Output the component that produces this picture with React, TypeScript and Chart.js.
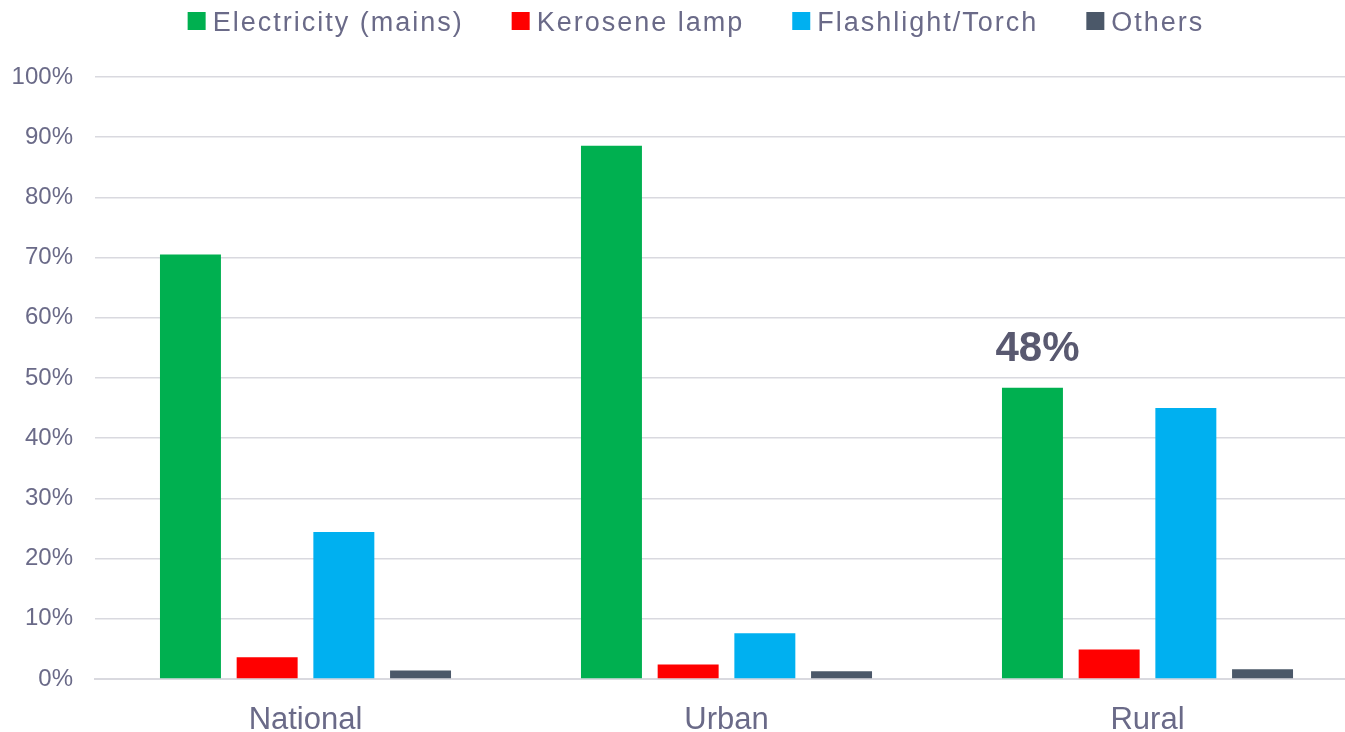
import React, { useEffect, useRef } from 'react';
import { Chart, registerables } from 'chart.js';

Chart.register(...registerables);

const categories = ['National', 'Urban', 'Rural'];
const seriesNames = ['Electricity (mains)', 'Kerosene lamp', 'Flashlight/Torch', 'Others'];
const electricity = [70.5, 88.6, 48.4];
const kerosene = [3.6, 2.4, 4.9];
const flashlight = [24.4, 7.6, 45.0];
const others = [1.4, 1.3, 1.6];
const seriesColors = ['#00B050', '#FF0000', '#00B0F0', '#4B5869'];
const yMin = 0;
const yMax = 100;
const yStep = 10;
const calloutText = '48%';
const calloutSeries = 0;
const calloutCategory = 2;

const TEXT_COLOR = '#6A6A88';
const FONT = '"Liberation Sans", Arial, sans-serif';

const legendPlugin = {
  id: 'stretchedLegend',
  afterDraw(chart: any) {
    const ctx = chart.ctx;
    ctx.save();
    ctx.font = `27px ${FONT}`;
    (ctx as any).letterSpacing = '2px';
    ctx.textBaseline = 'alphabetic';
    ctx.textAlign = 'left';
    const box = 18;
    const gap = 7;
    const spacing = 48;
    const items = chart.data.datasets.map((ds: any) => ({ text: ds.label, color: ds.backgroundColor }));
    const widths = items.map((it: any) => box + gap + ctx.measureText(it.text).width);
    const total = widths.reduce((a: number, b: number) => a + b, 0) + spacing * (items.length - 1);
    let x = 696 - total / 2;
    const boxTop = 12;
    const baseline = 31;
    items.forEach((it: any, i: number) => {
      ctx.fillStyle = it.color;
      ctx.fillRect(x, boxTop, box, box);
      ctx.fillStyle = TEXT_COLOR;
      ctx.fillText(it.text, x + box + gap, baseline);
      x += widths[i] + spacing;
    });
    ctx.restore();
  },
};

const calloutPlugin = {
  id: 'callout',
  afterDatasetsDraw(chart: any) {
    const meta = chart.getDatasetMeta(calloutSeries);
    const el = meta && meta.data[calloutCategory];
    if (!el) return;
    const ctx = chart.ctx;
    ctx.save();
    ctx.font = `bold 42px ${FONT}`;
    ctx.fillStyle = '#595970';
    ctx.textAlign = 'center';
    ctx.textBaseline = 'alphabetic';
    ctx.fillText(calloutText, el.x + 5, el.y - 27);
    ctx.restore();
  },
};

export default function App() {
  const canvasRef = useRef<HTMLCanvasElement | null>(null);

  useEffect(() => {
    document.documentElement.style.overflow = 'hidden';
    document.body.style.overflow = 'hidden';
    document.body.style.margin = '0';
    const canvas = canvasRef.current;
    if (!canvas) return;
    const seriesValues = [electricity, kerosene, flashlight, others];
    const chart = new Chart(canvas, {
      type: 'bar',
      data: {
        labels: categories,
        datasets: seriesNames.map((name, i) => ({
          label: name,
          data: seriesValues[i],
          backgroundColor: seriesColors[i],
          borderWidth: 0,
          categoryPercentage: 0.7287,
          barPercentage: 0.795,
        })),
      },
      options: {
        animation: false,
        responsive: false,
        devicePixelRatio: 1,
        layout: { padding: { top: 77, left: 12, right: 0, bottom: 0 } },
        plugins: {
          legend: { display: false },
          tooltip: { enabled: false },
        },
        scales: {
          x: {
            grid: { display: false, drawTicks: false },
            border: { display: true, color: '#D9D9DF', width: 2 },
            ticks: { color: TEXT_COLOR, font: { family: FONT, size: 31 }, padding: 23 },
            afterFit: (scale: any) => {
              scale.height = 53;
            },
          },
          y: {
            min: yMin,
            max: yMax,
            grid: { color: '#D9D9DF', lineWidth: 1.5, drawTicks: false },
            border: { display: false },
            ticks: {
              stepSize: yStep,
              color: TEXT_COLOR,
              font: { family: FONT, size: 24 },
              padding: 22,
              callback: (v: any) => `${v}%`,
            },
            afterFit: (scale: any) => {
              scale.width = 83;
            },
          },
        },
      },
      plugins: [legendPlugin, calloutPlugin],
    });
    return () => chart.destroy();
  }, []);

  return (
    <div style={{ position: 'fixed', left: 0, top: 0, width: 1358, height: 732, background: '#fff' }}>
      <canvas ref={canvasRef} width={1358} height={732} style={{ display: 'block' }} />
    </div>
  );
}
